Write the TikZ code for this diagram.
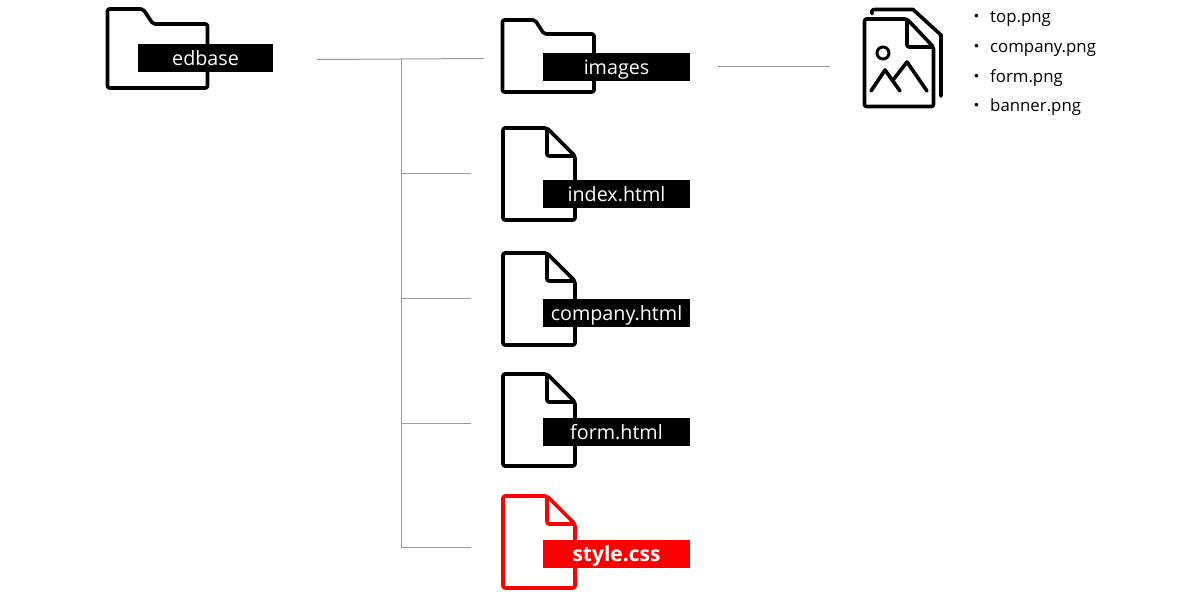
\documentclass[tikz,border=0pt]{standalone}
\usepackage{fontspec}
\setmainfont{Open Sans}
\newfontfamily\cjk{Noto Sans CJK JP}
\tikzset{
  x=1pt,y=-1pt,
  icon/.style={draw=black,line width=3.6pt,line join=round,rounded corners=2pt,fill=white},
  iconred/.style={icon,draw=red},
  thin icon/.style={draw=black,line width=3.6pt,line join=round,line cap=round},
  tag/.style={fill=black,text=white,inner sep=0pt,font=\fontsize{19.7}{20}\selectfont,text height=19pt,text depth=4pt},
  tagbox/.style={tag,minimum width=147pt,minimum height=28pt},
  link/.style={draw=black!40,line width=1pt},
  item/.style={anchor=west,inner sep=0pt,font=\fontsize{16.8}{17}\selectfont,text height=16pt,text depth=3pt},
}
\newcommand{\filepath}[3]{\draw[#1] (503,#2) -- (547,#2) -- (575,#2+28) -- (575,#2+92) -- (503,#2+92) -- cycle;
  \draw[#1,fill=none] (547,#2) -- (547,#2+28) -- (575,#2+28);}
\begin{document}
\begin{tikzpicture}
\useasboundingbox (0,0) rectangle (1200,596);
% folders
\draw[icon] (107.5,9) -- (143,9) -- (153,24) -- (207.5,24) -- (207.5,88) -- (107.5,88) -- cycle;
\draw[icon] (502.5,20) -- (535,20) -- (544,34) -- (594,34) -- (594,92) -- (502.5,92) -- cycle;
% files
\filepath{icon}{128}{}
\filepath{icon}{253}{}
\filepath{icon}{374}{}
\filepath{iconred}{496}{}
% labels
\node[tag,minimum width=135pt,minimum height=28pt] (edbase) at (205.5,58) {edbase};
\node[tagbox] (images) at (616.5,67) {images};
\node[tagbox] (index) at (616.5,194) {index.html};
\node[tagbox] (company) at (616.5,313) {company.html};
\node[tagbox] (form) at (616.5,432) {form.html};
\node[tagbox,fill=red,font=\fontsize{21}{21}\selectfont\bfseries] (style) at (616.5,554) {style.css};
% image stack
\draw[thin icon,fill=none] (872,13.5) -- (872,11) to[out=90,in=180] (875,9.5) -- (913,9.5) -- (941,35) -- (941,96);
\draw[icon] (864.5,19) -- (907,19) -- (933.5,47) -- (933.5,106.5) -- (864.5,106.5) -- cycle;
\draw[icon,fill=none] (907,19) -- (907,47) -- (933.5,47);
\node[circle,draw=black,line width=3pt,minimum size=12pt,inner sep=0pt] (sun) at (883,53) {};
\draw[thin icon] (871,91) -- (885,70) -- (900,91);
\draw[thin icon] (893,80) -- (907,62) -- (927,91);
% list
\node[item] (l1) at (968,16) {\makebox[22pt][l]{\cjk ・}top.png};
\node[item] (l2) at (968,46) {\makebox[22pt][l]{\cjk ・}company.png};
\node[item] (l3) at (968,76) {\makebox[22pt][l]{\cjk ・}form.png};
\node[item] (l4) at (968,105) {\makebox[22pt][l]{\cjk ・}banner.png};
% connectors
\coordinate (rootout) at (317,59.5);
\coordinate (imgin) at (484,58.5);
\coordinate (imgout) at (718,67);
\coordinate (pngin) at (830,67);
\coordinate (j0) at (401,59);
\coordinate (j1) at (401,173.5);
\coordinate (e1) at (471,173.5);
\coordinate (j2) at (401,298.5);
\coordinate (e2) at (471,298.5);
\coordinate (j3) at (401,423.5);
\coordinate (e3) at (471,423.5);
\coordinate (j4) at (401,547.5);
\coordinate (e4) at (471,547.5);
\draw[link] (rootout) -- (imgin);
\draw[link] (imgout) -- (pngin);
\draw[link] (j0) -- (j4) -- (e4);
\draw[link] (j1) -- (e1);
\draw[link] (j2) -- (e2);
\draw[link] (j3) -- (e3);
\end{tikzpicture}
\end{document}
